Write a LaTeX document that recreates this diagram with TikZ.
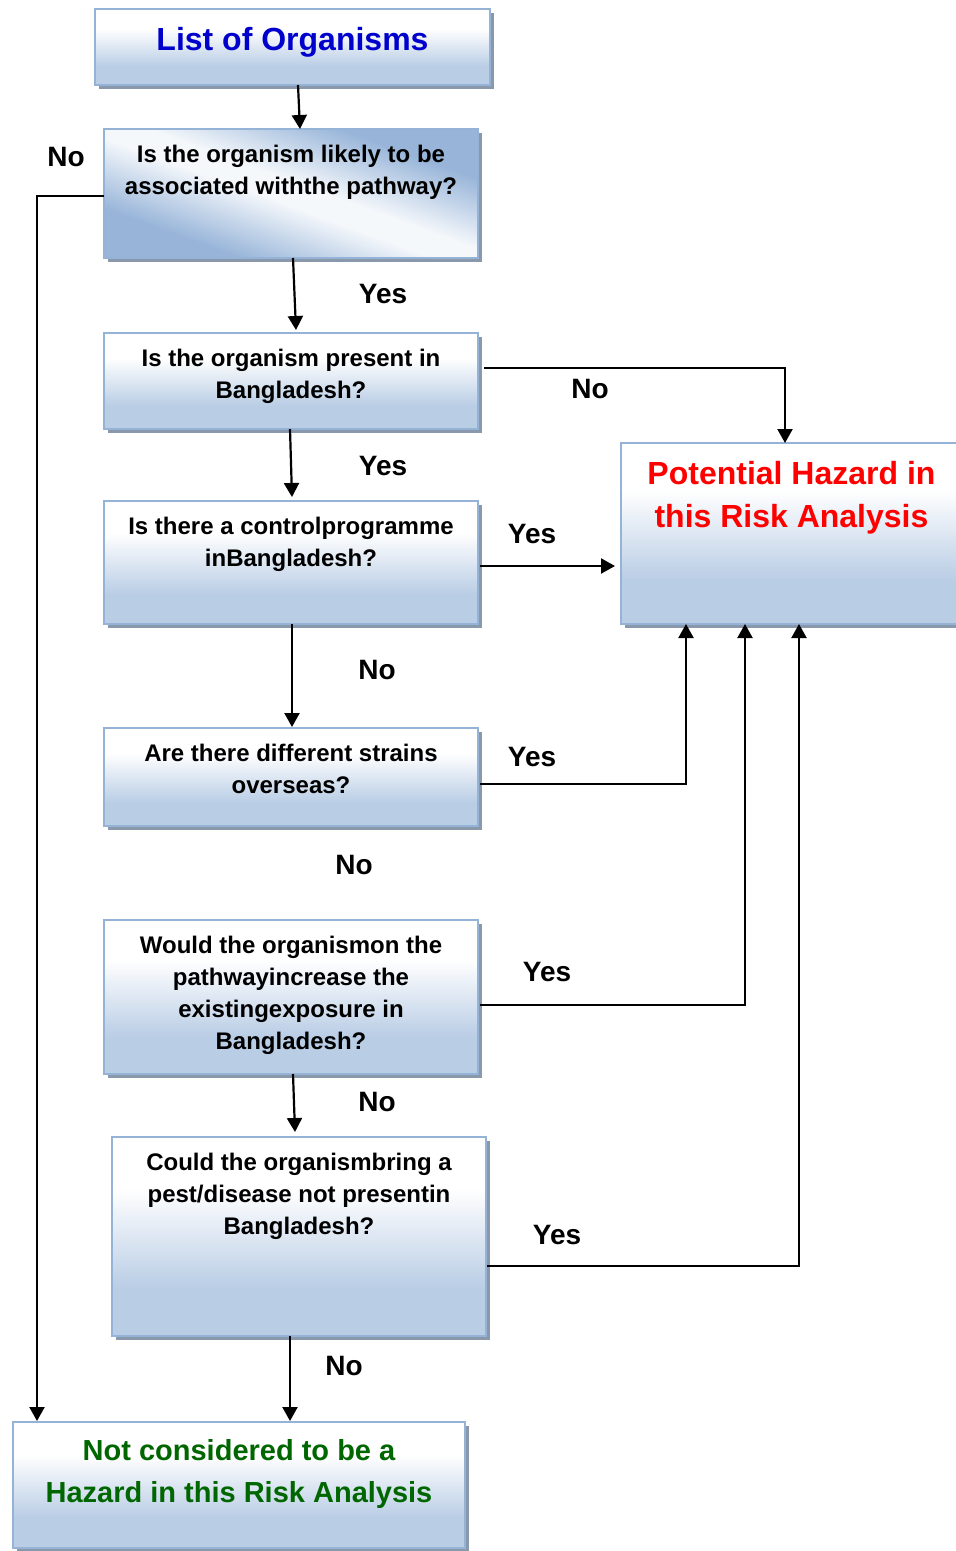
\documentclass[tikz,border=0pt]{standalone}
\usepackage{fontspec}
\setmainfont{Liberation Sans}
\usetikzlibrary{arrows.meta,shadows}

\definecolor{boxblue}{RGB}{185,205,229}
\definecolor{diagblue}{RGB}{152,181,217}
\definecolor{edgeblue}{RGB}{149,179,215}
\definecolor{shadowgray}{RGB}{138,152,172}
\definecolor{titleblue}{RGB}{0,0,204}
\definecolor{hazardred}{RGB}{255,0,0}
\definecolor{safegreen}{RGB}{0,102,0}

% soft vertical fade: white on top, light blue at the bottom
\pgfdeclareverticalshading{panelfade}{100bp}{color(0bp)=(boxblue); color(37bp)=(boxblue); color(62bp)=(white); color(100bp)=(white)}
% blue--white--blue band, turned to run diagonally
\pgfdeclarehorizontalshading{panelsweep}{100bp}{color(0bp)=(diagblue); color(30bp)=(diagblue); color(47bp)=(white!85!boxblue); color(53bp)=(white!85!boxblue); color(70bp)=(diagblue); color(100bp)=(diagblue)}

\begin{document}
\begin{tikzpicture}[x=1pt,y=-1pt,
  panel/.style={rectangle, draw=edgeblue, line width=1.8pt, shading=panelfade,
    inner sep=0pt, outer sep=0pt,
    drop shadow={shadow xshift=4pt, shadow yshift=-4pt, fill=shadowgray, opacity=1}},
  qtext/.style={font=\fontsize{24}{32}\selectfont\bfseries, align=center, inner sep=0pt, text=black, anchor=north},
  bigtext/.style={font=\fontsize{32}{43}\selectfont\bfseries, align=center, inner sep=0pt, anchor=north},
  endtext/.style={font=\fontsize{29}{42}\selectfont\bfseries, align=center, inner sep=0pt, anchor=north},
  answer/.style={font=\fontsize{28}{32}\selectfont\bfseries, inner sep=0pt, anchor=base},
  conn/.style={line width=2.2pt, -{Triangle[length=14pt,width=15pt]}}]

\clip (0,0) rectangle (956,1551);
\fill[white] (0,0) rectangle (956,1551);

% boxes
\node[panel, minimum width=395, minimum height=76]  (b0) at (292.5,47) {};
\node[panel, shading=panelsweep, shading angle=70, minimum width=374, minimum height=129] (b1) at (291,193.5) {};
\node[panel, minimum width=374, minimum height=96]  (b2) at (291,381) {};
\node[panel, minimum width=374, minimum height=123] (b3) at (291,562.5) {};
\node[panel, minimum width=374, minimum height=98]  (b4) at (291,777) {};
\node[panel, minimum width=374, minimum height=154] (b5) at (291,997) {};
\node[panel, minimum width=374, minimum height=199] (b6) at (299,1236.5) {};
\node[panel, minimum width=341, minimum height=181] (hz) at (791.5,533.5) {};
\node[panel, minimum width=452, minimum height=126] (fin) at (239,1485) {};

% box texts
\node[bigtext, text=titleblue] (t0) at ([yshift=-12pt]b0.north) {\rule{0pt}{29pt}List of Organisms};
\node[qtext] (t1) at ([yshift=-11.5pt]b1.north) {\rule{0pt}{22pt}Is the organism likely to be\\associated withthe pathway?};
\node[qtext] (t2) at ([yshift=-11.5pt]b2.north) {\rule{0pt}{22pt}Is the organism present in\\Bangladesh?};
\node[qtext] (t3) at ([yshift=-11.5pt]b3.north) {\rule{0pt}{22pt}Is there a controlprogramme\\inBangladesh?};
\node[qtext] (t4) at ([yshift=-11.5pt]b4.north) {\rule{0pt}{22pt}Are there different strains\\overseas?};
\node[qtext] (t5) at ([yshift=-11.5pt]b5.north) {\rule{0pt}{22pt}Would the organismon the\\pathwayincrease the\\existingexposure in\\Bangladesh?};
\node[qtext] (t6) at ([yshift=-11.5pt]b6.north) {\rule{0pt}{22pt}Could the organismbring a\\pest/disease not presentin\\Bangladesh?};
\node[bigtext, text=hazardred] (thz) at ([yshift=-12pt]hz.north) {\rule{0pt}{29pt}Potential Hazard in\\this Risk Analysis};
\node[endtext, text=safegreen] (tfin) at ([yshift=-12pt]fin.north) {\rule{0pt}{26pt}Not considered to be a\\Hazard in this Risk Analysis};

% connectors
\draw[conn] ([xshift=5.5pt]b0.south) -- ([xshift=9pt]b1.north);
\draw[conn] ([xshift=2pt]b1.south) -- ([xshift=5pt,yshift=3pt]b2.north);
\draw[conn] ([xshift=6pt,yshift=13pt]b2.east) -| ([xshift=-6.5pt]hz.north);
\draw[conn] ([xshift=-1pt]b2.south) -- ([xshift=1pt,yshift=4pt]b3.north);
\draw[conn] ([xshift=2pt,yshift=-3.5pt]b3.east) -- ([xshift=-6pt,yshift=-32.5pt]hz.west);
\draw[conn] ([xshift=1pt]b3.south) -- ([xshift=1pt,yshift=1pt]b4.north);
\draw[conn] ([xshift=2pt,yshift=-7pt]b4.east) -| ([xshift=-105.5pt]hz.south);
\draw[conn] ([xshift=2pt,yshift=-8pt]b5.east) -| ([xshift=-46.5pt]hz.south);
\draw[conn] ([xshift=2pt]b5.south) -- ([xshift=-4pt,yshift=5pt]b6.north);
\draw[conn] ([xshift=1pt,yshift=-29.5pt]b6.east) -| ([xshift=7.5pt]hz.south);
\draw[conn] ([xshift=-9pt]b6.south) -- ([xshift=51pt,yshift=1pt]fin.north);
\draw[conn] ([yshift=-2.5pt]b1.west) -| ([xshift=-202pt,yshift=1pt]fin.north);

% answers on the branches
\node[answer] (n1) at (66,166) {No};
\node[answer] (y1) at (383,303) {Yes};
\node[answer] (n2) at (590,398) {No};
\node[answer] (y2) at (383,475) {Yes};
\node[answer] (y3) at (532,543) {Yes};
\node[answer] (n3) at (377,679) {No};
\node[answer] (y4) at (532,766) {Yes};
\node[answer] (n4) at (354,874) {No};
\node[answer] (y5) at (547,981) {Yes};
\node[answer] (n5) at (377,1111) {No};
\node[answer] (y6) at (557,1244) {Yes};
\node[answer] (n6) at (344,1375) {No};
\end{tikzpicture}
\end{document}
